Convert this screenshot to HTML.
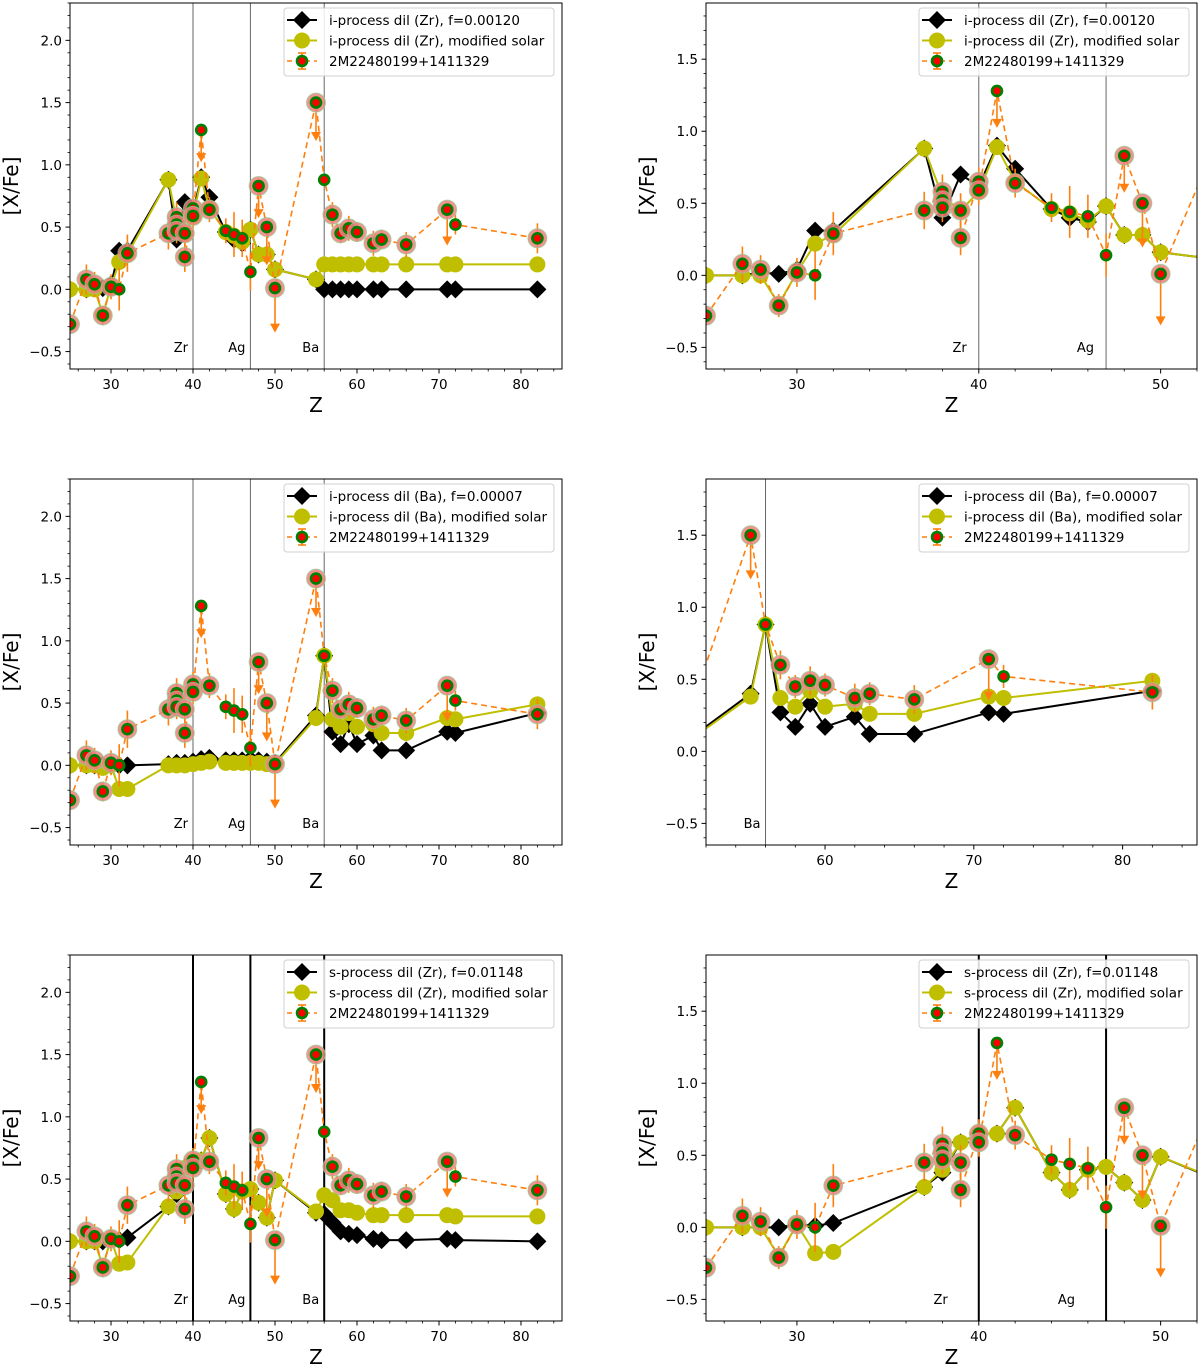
<!DOCTYPE html>
<html><head><meta charset="utf-8"><style>
html,body{margin:0;padding:0;background:#fff;}
svg{display:block;font-family:"DejaVu Sans","Liberation Sans",sans-serif;}
</style></head><body>
<svg id="fig" width="1200" height="1367" viewBox="0 0 1200 1367" xmlns="http://www.w3.org/2000/svg"></svg>
<script>
// ---- data ----
const starZ = [25,27,28,29,30,31,32,37,38,38,38,39,39,40,40,41,42,44,45,46,47,48,49,50,55,56,57,58,59,60,62,63,66,71,72,82];
const starV = [-0.28,0.08,0.04,-0.21,0.02,0.00,0.29,0.45,0.58,0.52,0.47,0.45,0.26,0.65,0.59,1.28,0.64,0.47,0.44,0.41,0.14,0.83,0.50,0.01,1.50,0.88,0.60,0.45,0.49,0.46,0.37,0.40,0.36,0.64,0.52,0.41];
const starErr = [0,0.12,0.1,0.08,0.1,0.17,0.15,0.13,0.12,0.1,0.1,0.12,0.12,0.1,0.1,0,0.1,0.1,0.18,0.15,0.15,0,0,0,0,0,0.1,0.08,0.1,0.08,0.1,0.08,0.1,0,0.08,0.12];
const starUL = [0,0,0,0,0,0,0,0,0,0,0,0,0,0,0,0.25,0,0,0,0,0,0.25,0.3,0.35,0.3,0,0,0,0,0,0,0,0,0.28,0,0];
const starHalo = [1,1,1,1,1,0,1,1,1,1,1,1,1,1,1,0,1,0,0,0,0,1,1,1,1,0,1,1,1,1,1,1,1,1,0,1];
const modelZ = [25,27,28,29,30,31,32,37,38,39,40,41,42,44,45,46,47,48,49,50,55,56,57,58,59,60,62,63,66,71,72,82];
const iZrBlack = [0,0,0.02,0.01,0.04,0.31,0.31,0.88,0.40,0.70,0.62,0.90,0.74,0.46,0.40,0.37,0.48,0.28,0.28,0.16,0.08,0,0,0,0,0,0,0,0,0,0,0];
const iZrYellow = [0,0,0,-0.2,0.02,0.22,0.28,0.88,0.55,0.45,0.58,0.89,0.65,0.46,0.43,0.38,0.48,0.28,0.28,0.16,0.08,0.2,0.2,0.2,0.2,0.2,0.2,0.2,0.2,0.2,0.2,0.2];
const iBaBlack = [0,0,0,0,0,0,0,0.01,0.02,0.02,0.03,0.05,0.06,0.04,0.04,0.04,0.05,0.04,0.03,0.02,0.40,0.88,0.27,0.17,0.33,0.17,0.24,0.12,0.12,0.27,0.26,0.42];
const iBaYellow = [0,0,0,-0.02,0,-0.19,-0.19,0,0,0,0.01,0.02,0.03,0.02,0.02,0.02,0.02,0.02,0.01,0.01,0.38,0.88,0.37,0.31,0.42,0.31,0.33,0.26,0.26,0.38,0.37,0.49];
const sZrBlack = [0,0,0,0,0.02,0.01,0.03,0.28,0.38,0.59,0.65,0.65,0.83,0.38,0.26,0.40,0.42,0.31,0.19,0.49,0.23,0.22,0.15,0.08,0.06,0.05,0.02,0.01,0.01,0.02,0.01,0.0];
const sZrYellow = [0,0,0,-0.2,0.02,-0.18,-0.17,0.28,0.40,0.59,0.65,0.65,0.83,0.38,0.26,0.40,0.42,0.31,0.19,0.49,0.24,0.37,0.33,0.25,0.25,0.23,0.21,0.21,0.21,0.21,0.20,0.20];
const legendStar = "2M22480199+1411329";

const NS = "http://www.w3.org/2000/svg";
const fig = document.getElementById('fig');
function mk(tag, attrs, parent){const e=document.createElementNS(NS,tag);for(const k in attrs)e.setAttribute(k,attrs[k]);(parent||fig).appendChild(e);return e;}

const panels = [
 {id:'i-zr-full', x0:70,x1:562,y0:3,h:366, xr:[25,85], yr:[-0.64,2.3], xt:[30,40,50,60,70,80], yt:[-0.5,0,0.5,1,1.5,2], vl:[[40,'Zr'],[47,'Ag'],[56,'Ba']], lo:5, vw:1, vc:'#666', blk:iZrBlack, yel:iZrYellow, l1:'i-process dil (Zr), f=0.00120', l2:'i-process dil (Zr), modified solar'},
 {id:'i-zr-zoom', x0:706,x1:1197,y0:3,h:366, xr:[25,52], yr:[-0.65,1.89], xt:[30,40,50], yt:[-0.5,0,0.5,1,1.5], vl:[[40,'Zr'],[47,'Ag']], lo:12, vw:1, vc:'#666', blk:iZrBlack, yel:iZrYellow, l1:'i-process dil (Zr), f=0.00120', l2:'i-process dil (Zr), modified solar'},
 {id:'i-ba-full', x0:70,x1:562,y0:479,h:366, xr:[25,85], yr:[-0.64,2.3], xt:[30,40,50,60,70,80], yt:[-0.5,0,0.5,1,1.5,2], vl:[[40,'Zr'],[47,'Ag'],[56,'Ba']], lo:5, vw:1, vc:'#666', blk:iBaBlack, yel:iBaYellow, l1:'i-process dil (Ba), f=0.00007', l2:'i-process dil (Ba), modified solar'},
 {id:'i-ba-zoom', x0:706,x1:1197,y0:479,h:366, xr:[52,85], yr:[-0.65,1.89], xt:[60,70,80], yt:[-0.5,0,0.5,1,1.5], vl:[[56,'Ba']], lo:5, vw:1, vc:'#666', blk:iBaBlack, yel:iBaYellow, l1:'i-process dil (Ba), f=0.00007', l2:'i-process dil (Ba), modified solar'},
 {id:'s-zr-full', x0:70,x1:562,y0:955,h:366, xr:[25,85], yr:[-0.64,2.3], xt:[30,40,50,60,70,80], yt:[-0.5,0,0.5,1,1.5,2], vl:[[40,'Zr'],[47,'Ag'],[56,'Ba']], lo:5, vw:2, vc:'#000', blk:sZrBlack, yel:sZrYellow, l1:'s-process dil (Zr), f=0.01148', l2:'s-process dil (Zr), modified solar'},
 {id:'s-zr-zoom', x0:706,x1:1197,y0:955,h:366, xr:[25,52], yr:[-0.65,1.89], xt:[30,40,50], yt:[-0.5,0,0.5,1,1.5], vl:[[40,'Zr'],[47,'Ag']], lo:31, vw:2, vc:'#000', blk:sZrBlack, yel:sZrYellow, l1:'s-process dil (Zr), f=0.01148', l2:'s-process dil (Zr), modified solar'}
];

function diamond(g,cx,cy,r){return mk('polygon',{points:`${cx},${cy-r} ${cx+r},${cy} ${cx},${cy+r} ${cx-r},${cy}`,fill:'#000'},g);}
function fmt(v){return (v<0?'\u2212':'')+Math.abs(v).toFixed(1);}

panels.forEach((p,pi)=>{
  const g = mk('g',{});
  
  
  const y1 = p.y0+p.h;
  const X = z => p.x0 + (z-p.xr[0])/(p.xr[1]-p.xr[0])*(p.x1-p.x0);
  const Y = v => y1 - (v-p.yr[0])/(p.yr[1]-p.yr[0])*p.h;
  const cid = 'clip'+pi;
  const cp = mk('clipPath',{id:cid},g); mk('rect',{x:p.x0,y:p.y0,width:p.x1-p.x0,height:p.h},cp);
  const plot = mk('g',{'clip-path':`url(#${cid})`},g);
  
  
  // vertical element lines
  p.vl.forEach(([z,lab])=>{
    const ln = mk('line',{x1:X(z),x2:X(z),y1:p.y0,y2:y1,stroke:p.vc,'stroke-width':p.vw},plot);
    
    
    const t = mk('text',{x:X(z)-p.lo,y:y1-17,'font-size':13,'text-anchor':'end',fill:'#000'},plot);
    t.textContent = lab;
    
    
  });
  // black model
  const bg = mk('g',{},plot);
  
  
  mk('polyline',{points:modelZ.map((z,i)=>X(z)+','+Y(p.blk[i])).join(' '),fill:'none',stroke:'#000','stroke-width':2},bg);
  modelZ.forEach((z,i)=>{const d=diamond(bg,X(z),Y(p.blk[i]),9);
    
    });
  // yellow model
  const yg = mk('g',{},plot);
  
  
  mk('polyline',{points:modelZ.map((z,i)=>X(z)+','+Y(p.yel[i])).join(' '),fill:'none',stroke:'#bfbf00','stroke-width':2},yg);
  modelZ.forEach((z,i)=>{const c=mk('circle',{cx:X(z),cy:Y(p.yel[i]),r:8,fill:'#bfbf00'},yg);
    
    });
  // star
  const sg = mk('g',{},plot);
  
  
  mk('polyline',{points:starZ.map((z,i)=>X(z)+','+Y(starV[i])).join(' '),fill:'none',stroke:'#ff7f0e','stroke-width':1.6,'stroke-dasharray':'6,4'},sg);
  starZ.forEach((z,i)=>{
    const x=X(z), y=Y(starV[i]);
    if(starErr[i]>0){
      const e=mk('line',{x1:x,x2:x,y1:Y(starV[i]+starErr[i]),y2:Y(starV[i]-starErr[i]),stroke:'#ff7f0e','stroke-width':1.6},sg);
      
      
    }
    if(starUL[i]>0){
      const ye=Y(starV[i]-starUL[i]);
      mk('line',{x1:x,x2:x,y1:y,y2:ye-6,stroke:'#ff7f0e','stroke-width':1.6},sg);
      const a=mk('polygon',{points:`${x-5},${ye-8} ${x+5},${ye-8} ${x},${ye+1}`,fill:'#ff7f0e'},sg);
      
      
    }
  });
  starZ.forEach((z,i)=>{
    const x=X(z), y=Y(starV[i]);
    if(starHalo[i]) mk('circle',{cx:x,cy:y,r:9.5,fill:'#f08080','fill-opacity':0.85,stroke:'#8fd08f','stroke-width':1,'stroke-opacity':0.7},sg);
    const c=mk('circle',{cx:x,cy:y,r:6.3,fill:'#008000'},sg);
    
    
    mk('circle',{cx:x,cy:y,r:3.6,fill:'#ff0000'},sg);
  });
  // axes frame
  const fr = mk('rect',{x:p.x0,y:p.y0,width:p.x1-p.x0,height:p.h,fill:'none',stroke:'#000','stroke-width':1},g);
  
  
  // x ticks
  const xa = mk('g',{},g);
  
  
  for(let z=Math.ceil(p.xr[0]/2)*2; z<=p.xr[1]; z+=2){ if(z%10) mk('line',{x1:X(z),x2:X(z),y1:y1,y2:y1+2.5,stroke:'#000','stroke-width':0.8},xa); }
  p.xt.forEach(z=>{
    mk('line',{x1:X(z),x2:X(z),y1:y1,y2:y1+4.5,stroke:'#000','stroke-width':1},xa);
    const t=mk('text',{x:X(z),y:y1+20,'font-size':13.5,'text-anchor':'middle'},xa); t.textContent=z;
    
    
  });
  const xl=mk('text',{x:(p.x0+p.x1)/2,y:y1+43,'font-size':20,'text-anchor':'middle'},xa); xl.textContent='Z';
  
  
  // y ticks
  const ya = mk('g',{},g);
  
  
  for(let k=Math.ceil(p.yr[0]*10); k<=p.yr[1]*10; k++){ if(k%5) mk('line',{x1:p.x0,x2:p.x0-2.5,y1:Y(k/10),y2:Y(k/10),stroke:'#000','stroke-width':0.8},ya); }
  p.yt.forEach(v=>{
    mk('line',{x1:p.x0,x2:p.x0-4.5,y1:Y(v),y2:Y(v),stroke:'#000','stroke-width':1},ya);
    const t=mk('text',{x:p.x0-8,y:Y(v)+5,'font-size':13.5,'text-anchor':'end'},ya); t.textContent=fmt(v);
    
    
  });
  const yx=p.x0-52, yc=p.y0+p.h/2;
  const yl=mk('text',{x:yx,y:yc,'font-size':20,'text-anchor':'middle',transform:`rotate(-90 ${yx} ${yc})`},ya); yl.textContent='[X/Fe]';
  
  
  // legend
  const lg = mk('g',{},g);
  
  
  const lx=p.x1-278, ly=p.y0+5;
  mk('rect',{x:lx,y:ly,width:270,height:68,rx:3,fill:'#fff','fill-opacity':0.85,stroke:'#d0d0d0'},lg);
  const rows=[[p.l1,'blk'],[p.l2,'yel'],[legendStar,'star']];
  rows.forEach(([lab,kind],r)=>{
    const cy=ly+12+r*20.5, hx=lx+18;
    const ent=mk('g',{},lg);
    
    
    if(kind==='blk'){mk('line',{x1:hx-15,x2:hx+15,y1:cy,y2:cy,stroke:'#000','stroke-width':2},ent);diamond(ent,hx,cy,9);}
    else if(kind==='yel'){mk('line',{x1:hx-15,x2:hx+15,y1:cy,y2:cy,stroke:'#bfbf00','stroke-width':2},ent);mk('circle',{cx:hx,cy:cy,r:8,fill:'#bfbf00'},ent);}
    else{mk('line',{x1:hx-15,x2:hx+15,y1:cy,y2:cy,stroke:'#ff7f0e','stroke-width':1.6,'stroke-dasharray':'5,4'},ent);
      mk('line',{x1:hx,x2:hx,y1:cy-8,y2:cy+8,stroke:'#ff7f0e','stroke-width':1.6},ent);
      mk('line',{x1:hx-4,x2:hx+4,y1:cy-8,y2:cy-8,stroke:'#ff7f0e','stroke-width':1.6},ent);
      mk('line',{x1:hx-4,x2:hx+4,y1:cy+8,y2:cy+8,stroke:'#ff7f0e','stroke-width':1.6},ent);
      mk('circle',{cx:hx,cy:cy,r:6.3,fill:'#008000'},ent);mk('circle',{cx:hx,cy:cy,r:3.6,fill:'#ff0000'},ent);}
    const t=mk('text',{x:lx+45,y:cy+5,'font-size':13.5},ent); t.textContent=lab;
  });
});
</script>
</body></html>
